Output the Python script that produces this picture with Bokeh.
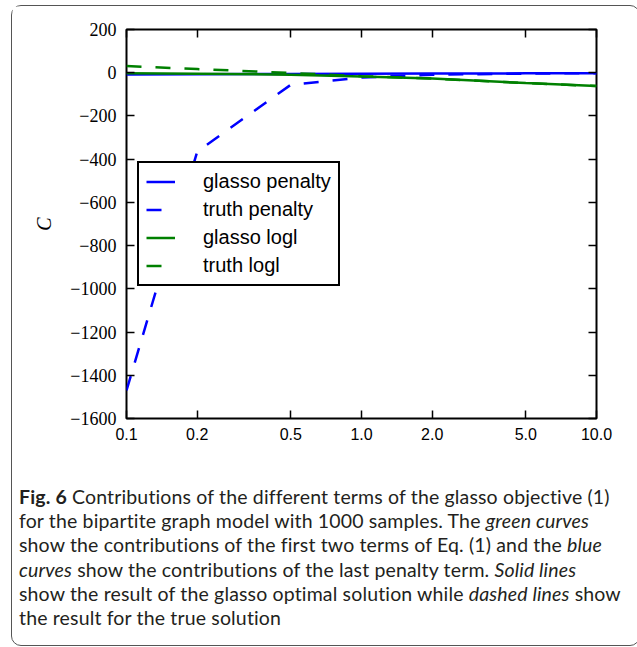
from bokeh.plotting import figure
from bokeh.models import (FixedTicker, Legend, LegendItem, Label, LinearAxis,
                          LogAxis, Div)
from bokeh.layouts import column
from bokeh.embed import file_html
from bokeh.resources import INLINE

# ---- data ----
sigma = [0.1, 0.2, 0.5, 1.0, 2.0, 5.0, 10.0]
sigma_labels = ["0.1", "0.2", "0.5", "1.0", "2.0", "5.0", "10.0"]
glasso_penalty = [-8, -7, -6, -5, -4, -3, -2]
truth_penalty = [-1470, -365, -56, -22, -9, -4, -2]
glasso_logl = [-3, -5, -9, -17, -27, -48, -62]
truth_logl = [31, 17, -1, -16, -27, -48, -62]
y_ticks = [-1600, -1400, -1200, -1000, -800, -600, -400, -200, 0, 200]
y_tick_labels = ["\u22121600", "\u22121400", "\u22121200", "\u22121000", "\u2212800",
                 "\u2212600", "\u2212400", "\u2212200", "0", "200"]

BLUE = "#0000ff"
GREEN = "#008000"
DASH = "15 14"
LW = 2.5

p = figure(width=617, height=470, x_axis_type="log", x_range=(0.1, 10),
           y_range=(-1600, 200), output_backend="svg", toolbar_location=None,
           min_border_left=114, min_border_right=33, min_border_top=23,
           min_border_bottom=58)
p.background_fill_color = "white"
p.border_fill_color = "white"
p.outline_line_color = "black"
p.outline_line_width = 2
p.xgrid.visible = False
p.ygrid.visible = False

xt = FixedTicker(ticks=sigma, minor_ticks=[])
yt = FixedTicker(ticks=y_ticks, minor_ticks=[])

def style_axis(ax, ticker, labels=None):
    ax.ticker = ticker
    ax.axis_line_color = None
    ax.major_tick_in = 8
    ax.major_tick_out = 0
    ax.major_tick_line_color = "black"
    ax.major_tick_line_width = 1.5
    ax.minor_tick_line_color = None
    if labels is None:
        ax.major_label_text_color = None
    else:
        ax.major_label_overrides = labels

bx = p.xaxis[0]
style_axis(bx, xt, {v: s for v, s in zip(sigma, sigma_labels)})
bx.major_label_text_font = "Liberation Sans"
bx.major_label_text_font_size = "16px"
bx.major_label_text_color = "black"
bx.major_label_standoff = 9

ly = p.yaxis[0]
style_axis(ly, yt, {v: s for v, s in zip(y_ticks, y_tick_labels)})
ly.major_label_text_font = "Liberation Serif"
ly.major_label_text_font_size = "18px"
ly.major_label_text_color = "black"
ly.major_label_standoff = 10
ly.axis_label = "C"
ly.axis_label_text_font = "Liberation Serif"
ly.axis_label_text_font_style = "italic"
ly.axis_label_text_font_size = "20px"
ly.axis_label_text_color = "black"
ly.axis_label_standoff = 12

top_ax = LogAxis()
style_axis(top_ax, xt)
p.add_layout(top_ax, "above")
right_ax = LinearAxis()
style_axis(right_ax, yt)
p.add_layout(right_ax, "right")

r1 = p.line(sigma, glasso_penalty, line_color=BLUE, line_width=LW)
r2 = p.line(sigma, truth_penalty, line_color=BLUE, line_width=LW, line_dash=DASH)
r3 = p.line(sigma, glasso_logl, line_color=GREEN, line_width=LW)
r4 = p.line(sigma, truth_logl, line_color=GREEN, line_width=LW, line_dash=DASH)

legend = Legend(items=[
    LegendItem(label="glasso penalty", renderers=[r1]),
    LegendItem(label="truth penalty", renderers=[r2]),
    LegendItem(label="glasso logl", renderers=[r3]),
    LegendItem(label="truth logl", renderers=[r4]),
], location=(11, 132))
legend.border_line_color = "black"
legend.border_line_alpha = 1
legend.border_line_width = 2
legend.background_fill_color = "white"
legend.background_fill_alpha = 1
legend.padding = 7
legend.spacing = 5
legend.glyph_width = 29
legend.glyph_height = 23
legend.label_height = 23
legend.label_standoff = 28
legend.label_text_font = "Liberation Sans"
legend.label_text_font_size = "20px"
legend.label_text_color = "black"
p.add_layout(legend)

# x axis label sigma_epsilon
p.add_layout(Label(x=0.962, y=-1804, text="\u03c3", text_align="center",
                   text_baseline="middle", text_font="Liberation Serif",
                   text_font_style="italic", text_font_size="20px",
                   text_color="black"))
p.add_layout(Label(x=1.01, y=-1830, text="\u03b5", text_align="left",
                   text_baseline="middle", text_font="Liberation Serif",
                   text_font_style="italic", text_font_size="13px",
                   text_color="black"))

caption = Div(
    text=("<b>Fig. 6</b> Contributions of the different terms of the glasso objective (1)<br>"
          "for the bipartite graph model with 1000 samples. The <i>green curves</i><br>"
          "show the contributions of the first two terms of Eq. (1) and the <i>blue</i><br>"
          "<i>curves</i> show the contributions of the last penalty term. <i>Solid lines</i><br>"
          "show the result of the glasso optimal solution while <i>dashed lines</i> show<br>"
          "the result for the true solution"),
    width=617,
    styles={"font-family": "Lato", "font-size": "19.5px", "line-height": "24.2px",
            "color": "#231f20", "white-space": "nowrap", "padding": "4px 0 10px 2px",
            "letter-spacing": "0.15px", "box-sizing": "border-box"},
)

layout = column(p, caption, margin=(5, 0, 0, 11),
                styles={"border": "1px solid #555", "border-radius": "10px",
                        "background": "white"})

open("out.html", "w").write(file_html(layout, INLINE))
